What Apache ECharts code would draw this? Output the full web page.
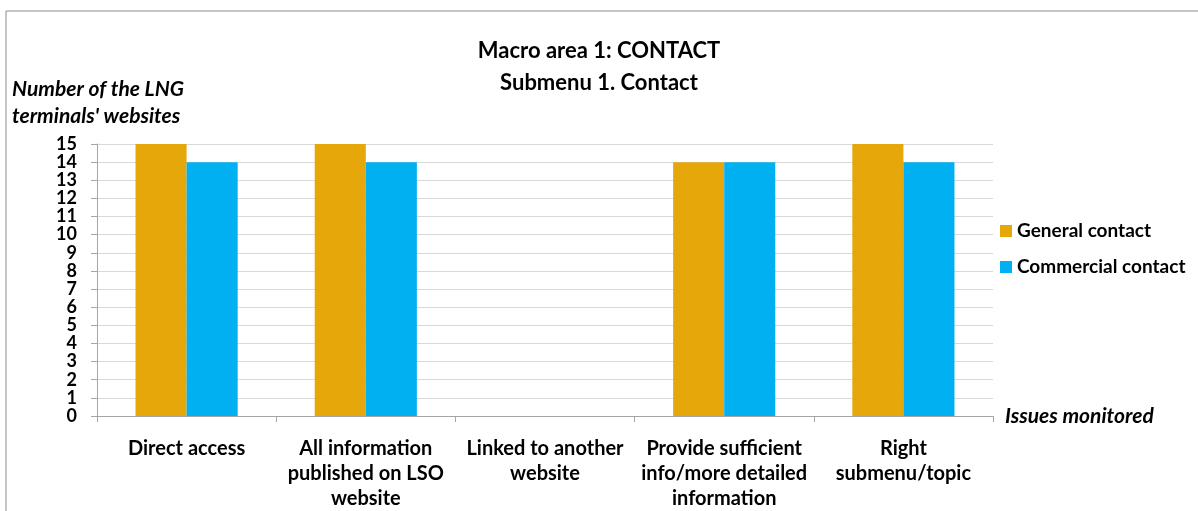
<!DOCTYPE html>
<html>
<head>
<meta charset="utf-8">
<script src="https://cdn.jsdelivr.net/npm/echarts@6/dist/echarts.min.js"></script>
<style>
  html, body { margin: 0; padding: 0; background: #fff; }
  #main { width: 1198px; height: 511px; }
</style>
</head>
<body>
<div id="main"></div>
<script>
const categories = [
  'Direct access',
  'All information\npublished on LSO\nwebsite',
  'Linked to another\nwebsite',
  'Provide sufficient\ninfo/more detailed\ninformation',
  'Right\nsubmenu/topic'
]
const generalContact = [15, 15, 0, 14, 15]
const commercialContact = [14, 14, 0, 14, 14]
const seriesNames = ['General contact', 'Commercial contact']

const font = 'Lato, "Open Sans", sans-serif'
const chart = echarts.init(document.getElementById('main'))
const option = {
  animation: false,
  color: ['#E5A709', '#00B0F0'],
  textStyle: { fontFamily: font },
  title: {
    text: 'Macro area 1: CONTACT\nSubmenu 1. Contact',
    left: 'center',
    top: 30,
    textStyle: { fontFamily: font, fontSize: 22, fontWeight: 'bold', color: '#000', lineHeight: 32 },
  },
  graphic: [
    {
      type: 'rect',
      shape: { x: 6, y: 11, width: 1300, height: 600 },
      style: { fill: 'none', stroke: '#8c8c8c', lineWidth: 1 },
      silent: true,
    },
    {
      type: 'text',
      left: 12,
      top: 76,
      style: {
        text: "Number of the LNG\nterminals' websites",
        font: 'italic bold 21px ' + font,
        lineHeight: 27,
        fill: '#000',
      },
    },
  ],
  legend: {
    data: seriesNames,
    orient: 'vertical',
    left: 995,
    top: 216,
    itemWidth: 12,
    itemHeight: 12,
    itemGap: 16,
    icon: 'rect',
    textStyle: { fontFamily: font, fontSize: 19, lineHeight: 20, fontWeight: 'bold', color: '#000' },
  },
  grid: { left: 97, right: 205, top: 144, bottom: 88 },
  xAxis: {
    type: 'category',
    data: categories,
    name: 'Issues monitored',
    nameLocation: 'end',
    nameGap: 12,
    nameTextStyle: { fontFamily: font, fontSize: 21, fontWeight: 'bold', fontStyle: 'italic', color: '#000', padding: [16, 0, 0, 0] },
    axisLine: { lineStyle: { color: '#a6a6a6' } },
    axisTick: { show: true, length: 6, lineStyle: { color: '#a6a6a6' } },
    axisLabel: { interval: 0, margin: 20, lineHeight: 25, fontSize: 20, fontWeight: 'bold', color: '#000', fontFamily: font },
  },
  yAxis: {
    type: 'value',
    min: 0,
    max: 15,
    interval: 1,
    axisLine: { show: true, lineStyle: { color: '#a6a6a6' } },
    axisTick: { show: true, length: 6, lineStyle: { color: '#a6a6a6' } },
    axisLabel: { margin: 20, fontSize: 18, fontWeight: 'bold', color: '#000', fontFamily: font },
    splitLine: { lineStyle: { color: '#d9d9d9' } },
  },
  series: [
    { name: seriesNames[0], type: 'bar', data: generalContact, barGap: '0%', barCategoryGap: '43%' },
    { name: seriesNames[1], type: 'bar', data: commercialContact, barGap: '0%', barCategoryGap: '43%' },
  ],
}
chart.setOption(option)
</script>
</body>
</html>
